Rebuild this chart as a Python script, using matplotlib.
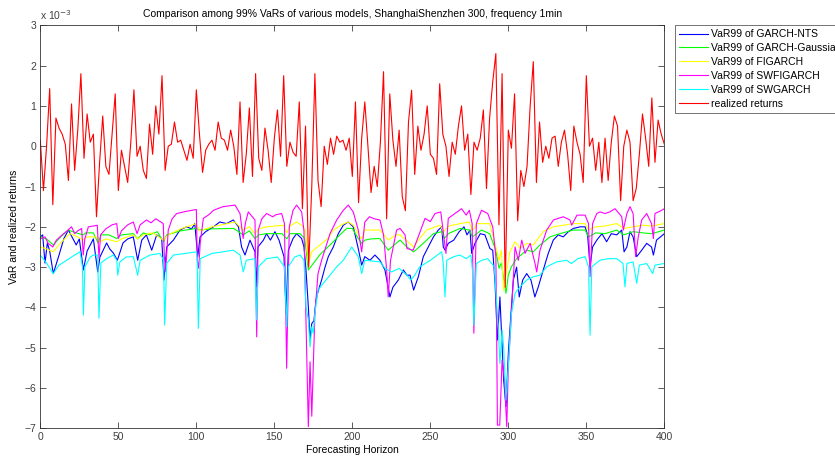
import numpy as np
import matplotlib
matplotlib.use("Agg")
import matplotlib.pyplot as plt

plt.rcParams['font.family'] = ['Liberation Sans', 'DejaVu Sans']

# realized returns (x 1e-3), read every 2nd step of the horizon
returns = [
    0.15, -1.1, 0.0, 1.43, -1.45, 0.7, 0.45, 0.3, 0.05, -0.85,
    1.05, -0.6, 0.4, 1.8, -0.3, 0.8, 0.1, 0.3, -1.75, -0.4,
    0.75, -0.5, -0.7, 0.3, 1.3, -1.1, -0.1, -0.5, -0.9, 0.1,
    1.4, -0.25, 0.0, -0.6,
    -0.8, 0.55, -0.2, 1.0, 0.3, 1.75, -0.6, 0.0, 0.05, 0.6,
    0.1, 0.15, -0.1, -0.35, 0.05, -0.3, 1.4, 0.3, -0.65, -0.1,
    0.05, 0.15, -0.1, 0.6, 0.2, 0.15, -0.1, 0.4, 0.0, -0.7,
    1.1, -0.9, -0.2,
    0.95, -0.75, 1.8, -0.3, -0.6, 0.45, -0.1, -0.9, 0.2, 0.9,
    -0.25, 1.75, -0.5, 0.1, -0.15, -0.25, 1.1, -1.55, 0.5, -3.0,
    -1.0, 1.8, -0.85, -1.5, 0.0, -0.45, 0.2, -0.2, 0.25, 0.1,
    0.15, -0.1, 0.2, -0.75,
    1.1, -1.4, 0.2, 1.1, 0.0, -1.15, -0.5, -1.0, 0.1, 1.85,
    -1.8, 1.3, 0.15, -0.5, 0.4, -1.25, -1.6, 0.6, 1.39, -0.7,
    0.5, -0.1, 0.3, 1.0, -0.2, -0.3, -0.7, 1.55, 0.3, 0.0,
    -0.75, 0.1, -0.2,
    0.5, 1.0, -0.1, 0.3, -1.2, 0.1, -0.1, 0.2, 0.9, -1.05,
    0.7, 1.6, 2.3, -1.95, 1.8, -3.5, 0.4, -0.05, 1.3, -1.85,
    -0.6, -1.0, -0.5, 1.0, 2.1, -0.9, 0.6, -0.4, 0.0, -0.3,
    0.2, 0.25, -0.5,
    0.1, 0.4, -0.2, -1.1, 0.5, 0.1, -0.2, -0.9, 1.75, 0.0,
    0.2, -0.6, 0.1, -0.9, 0.2, -0.85, 0.1, 0.75, 0.5, -1.35,
    0.0, 0.4, 0.1, -1.35, -1.05, -0.2, 0.8, 0.2, -0.5, 1.2,
    -0.4, 0.65, 0.3, 0.05,
]
returns_x = np.arange(len(returns)) * 2

# VaR99 forecasts (horizon, VaR x 1e-3)
var_nts = [
    (0, -2.25), (1.5, -2.2), (3, -2.9), (4.5, -2.4), (6, -2.6), (8.3, -3.16), (12, -2.7), (15, -2.3),
    (18, -2.08), (21, -2.3), (23, -2.45), (25, -2.3), (27.6, -3.07), (30, -2.6), (32, -2.45), (34, -2.3),
    (36.8, -3.12), (38.2, -2.75), (42.5, -2.4), (44.5, -2.55), (46.8, -2.65), (49.4, -2.83), (53, -2.4),
    (56, -2.3), (59.6, -2.25), (62.4, -2.83), (65, -2.33), (68, -2.2), (71.4, -2.58), (74.6, -2.2),
    (77.8, -2.29), (79.3, -3.32), (81, -2.5), (85.3, -2.33), (89.5, -2.08), (93.8, -2.0), (97, -2.05),
    (99, -1.92), (100.9, -2.74), (102.4, -2.25), (106, -2.12), (111, -2.0), (115, -1.88), (119.4, -1.92),
    (123.7, -1.83), (127, -2.0), (129, -2.5), (131.2, -2.7), (134.4, -2.33), (137.6, -2.62), (138.3, -3.49),
    (139.5, -2.5), (143, -2.33), (145, -2.17), (147.5, -2.33), (150.4, -2.12), (153, -2.33), (156.2, -2.74),
    (157.5, -4.15), (159, -2.58), (162, -2.29), (164.3, -2.17), (167.5, -2.29), (169, -2.5), (170.3, -3.07),
    (171.8, -3.98), (172.9, -4.81), (174, -4.4), (175.4, -4.33), (176.7, -3.82), (178, -3.61), (180.3, -3.32),
    (182.5, -3.0), (184.6, -2.74), (187.8, -2.5), (191, -2.17), (194.2, -1.96), (197.4, -1.88), (200.6, -2.0),
    (203.8, -2.54), (206, -2.95), (208, -2.74), (211.3, -2.83), (214.5, -2.7), (217.7, -2.83), (220.9, -3.07),
    (224.1, -3.74), (226, -3.5), (229.5, -3.32), (232.7, -3.07), (235, -3.2), (237, -3.2), (239.3, -3.57),
    (242.3, -3.24), (245.5, -2.74), (248.7, -2.5), (252, -2.25), (255.1, -2.08), (257.3, -2.0), (258.3, -2.5),
    (259.5, -2.58), (261.5, -2.41), (265, -2.33), (268.5, -2.12), (271.6, -2.0), (273.5, -2.2), (275.4, -2.08),
    (276.5, -2.66), (278.6, -2.41), (282, -2.17), (285, -2.2), (288.2, -2.54), (290, -2.58), (291.5, -3.4),
    (293, -4.81), (294.6, -3.74), (297, -5.8), (298.5, -6.46), (300, -5.14), (301.7, -4.15), (303.2, -3.32),
    (305.3, -3.0), (307, -3.74), (309.2, -3.32), (311.8, -3.16), (314.5, -3.32), (317, -3.74), (319.2, -3.49),
    (322.4, -3.07), (325.6, -2.66), (328.8, -2.33), (332, -2.2), (335.2, -2.25), (338.5, -2.12), (341.7, -2.04),
    (346, -2.0), (349.2, -2.0), (350.8, -2.2), (352.4, -2.99), (354, -2.5), (356.7, -2.33), (360, -2.17),
    (363, -2.37), (366, -2.17), (369.5, -2.2), (372.7, -2.08), (374.2, -2.62), (376, -2.5), (378, -2.12),
    (380, -2.25), (382.3, -2.74), (385.5, -2.58), (388.7, -2.41), (391.8, -2.5), (393, -2.7), (395, -2.33),
    (400, -2.17),
]
var_gauss = [
    (0, -2.25), (4, -2.3), (8.3, -2.45), (13, -2.25), (18, -2.08), (23, -2.15), (27.5, -2.2), (29, -2.15),
    (34, -2.15), (37, -2.4), (39, -2.2), (44, -2.2), (49, -2.29), (52, -2.2), (59.6, -2.17), (62.4, -2.3),
    (66, -2.15), (70, -2.2), (75, -2.12), (79, -2.37), (81, -2.2), (90, -2.1), (100, -2.04), (102, -2.08),
    (110, -2.05), (124, -2.04), (130, -2.2), (134, -2.1), (137.6, -2.29), (140, -2.2), (145, -2.17),
    (155, -2.17), (158, -2.3), (160, -2.17), (166.5, -2.17), (169.5, -2.29), (171.8, -3.07), (175, -2.91),
    (179, -2.7), (183, -2.55), (187.8, -2.37), (192, -2.2), (196.4, -2.04), (200, -2.04), (203.8, -2.29),
    (206, -2.41), (208, -2.33), (212, -2.3), (217.7, -2.29), (223, -2.58), (228, -2.41), (230.6, -2.33),
    (235, -2.5), (239.3, -2.62), (245.5, -2.41), (252, -2.17), (257.3, -2.12), (259, -2.29), (261.5, -2.17),
    (269, -2.04), (275, -2.08), (277, -2.25), (282.8, -2.08), (288, -2.17), (292, -2.58), (294, -3.03),
    (295.5, -2.9), (298.5, -3.65), (300, -3.2), (302, -2.99), (305.3, -2.79), (311.8, -2.58), (316, -2.62),
    (320.3, -2.45), (326.7, -2.25), (333, -2.17), (341.7, -2.08), (349.2, -2.08), (351.4, -2.25),
    (356, -2.15), (362, -2.17), (369.5, -2.08), (374, -2.2), (380, -2.12), (386, -2.15), (392, -2.17),
    (400, -2.08),
]
var_figarch = [
    (0, -2.5), (4, -2.55), (8.3, -2.62), (13, -2.4), (19, -2.17), (24, -2.25), (27.5, -2.33), (30, -2.25),
    (36, -2.25), (38, -2.37), (42, -2.3), (49, -2.37), (52, -2.3), (59.6, -2.2), (62.4, -2.3), (66, -2.2),
    (72, -2.15), (79, -2.33), (82, -2.2), (90, -2.05), (100, -1.92), (102, -2.1), (110, -2.0), (124.8, -1.88),
    (130, -2.08), (134, -2.0), (137.6, -2.17), (140, -2.05), (145, -2.0), (155.8, -1.96), (158, -2.15),
    (160, -1.98), (164.3, -1.88), (167.5, -1.96), (170, -2.1), (171.8, -2.91), (174, -2.62), (179.3, -2.45),
    (184, -2.3), (188, -2.08), (193, -1.95), (197.4, -1.88), (200.6, -1.96), (203.8, -2.17), (206, -2.3),
    (208, -2.08), (217.7, -2.08), (223, -2.33), (228, -2.2), (230.6, -2.2), (235, -2.35), (239.3, -2.5),
    (243, -2.3), (247.6, -2.08), (256.2, -1.96), (258.5, -2.12), (262, -1.98), (269, -1.92), (275, -1.88),
    (277, -2.1), (280, -1.92), (288, -1.92), (292, -2.5), (294, -2.83), (295.5, -2.58), (297, -3.57),
    (299, -3.07), (301, -2.62), (304.3, -2.37), (307.5, -2.53), (311.8, -2.41), (316, -2.45), (322.4, -2.12),
    (328.8, -2.0), (341.7, -1.92), (349.2, -1.92), (351.4, -2.08), (356, -2.0), (362, -1.98), (369.5, -1.92),
    (374, -2.04), (380, -2.0), (386, -1.96), (392, -1.98), (400, -1.92),
]
var_swfigarch = [
    (0, -2.3), (3, -2.25), (5, -2.41), (8, -2.5), (10.3, -2.33), (14, -2.2), (17.8, -2.08), (20, -2.0),
    (22, -2.17), (24, -2.1), (26.5, -2.04), (27.5, -2.7), (28.5, -2.3), (30.8, -2.0), (34, -1.98),
    (36.5, -1.96), (37.6, -2.78), (38.6, -2.2), (42, -2.05), (46, -1.95), (49, -1.92), (50, -2.29),
    (52, -2.1), (56, -1.95), (59.6, -1.88), (62, -2.17), (64, -1.95), (68, -1.83), (71, -1.9), (74, -1.8),
    (78.8, -1.92), (79.5, -2.74), (80.3, -3.1), (82, -2.08), (84.5, -1.8), (87.4, -1.67), (93, -1.62),
    (100, -1.57), (100.6, -2.83), (101.5, -3.03), (102.5, -2.4), (104.5, -1.79), (108, -1.7), (111, -1.59),
    (117, -1.5), (124.8, -1.46), (128, -1.67), (130, -2.29), (131.5, -1.9), (133.3, -1.63), (137.6, -1.83),
    (138.7, -4.73), (139.7, -2.08), (142, -1.8), (145, -1.67), (149, -1.75), (151, -1.7), (154.7, -1.67),
    (156.5, -1.92), (157.9, -5.51), (159.6, -2.0), (162, -1.59), (164.3, -1.46), (167.5, -1.63), (169, -2.1),
    (170.7, -4.98), (171.8, -6.96), (172.9, -5.35), (174, -6.7), (176, -4.15), (178, -3.16), (180.3, -2.83),
    (183, -2.5), (185.7, -2.17), (190, -1.83), (194, -1.6), (197.4, -1.46), (200.6, -1.63), (203.8, -2.08),
    (206, -2.62), (208, -1.88), (211, -1.75), (214, -1.8), (217.7, -1.83), (220, -2.2), (222, -3.07),
    (223, -3.74), (224.5, -2.83), (228.4, -2.08), (230.6, -2.04), (233.8, -2.2), (235, -2.54), (239, -2.58),
    (243, -2.17), (246.6, -1.79), (250, -1.87), (253, -1.67), (256.7, -1.63), (258.5, -2.2), (260, -2.66),
    (261.5, -1.79), (265.8, -1.67), (270, -1.55), (273, -1.71), (275, -1.59), (276.8, -1.92), (277.9, -4.64),
    (279.5, -1.92), (282.8, -1.59), (286.8, -1.67), (290, -2.0), (292, -2.74), (292.5, -4.5), (293, -6.92),
    (294.5, -6.92), (296, -5.3), (297.5, -5.8), (299, -6.96), (300, -5.47), (302, -4.15), (304.3, -2.5),
    (306.4, -2.83), (308.6, -2.33), (310.7, -2.66), (314, -2.41), (317.1, -2.91), (318.2, -3.12),
    (320.3, -2.58), (324.6, -2.08), (328.9, -1.83), (335.2, -1.75), (339.5, -1.83), (340.6, -1.96),
    (344, -1.71), (349.2, -1.71), (351.4, -1.92), (352.4, -3.24), (354, -1.92), (356.7, -1.67),
    (358.8, -1.63), (362, -1.67), (365, -1.63), (368.4, -1.55), (372.7, -1.75), (373.7, -2.08), (376, -1.67),
    (378, -1.5), (380, -1.67), (381.6, -2.74), (383.3, -2.25), (385.5, -1.83), (388.7, -1.67), (391.8, -1.92),
    (393, -2.29), (394, -1.67), (398.3, -1.59), (400, -1.55),
]
var_swgarch = [
    (0, -2.7), (4, -2.9), (8.3, -3.16), (12, -2.95), (16.9, -2.83), (22, -2.7), (25.4, -2.62), (27, -2.99),
    (27.6, -4.19), (28.6, -2.99), (32, -2.75), (34, -2.7), (36.8, -2.7), (37.6, -4.27), (38.8, -2.9),
    (42, -2.8), (46.8, -2.7), (49, -2.83), (49.6, -3.2), (51, -2.87), (55, -2.75), (59.6, -2.74), (62.4, -3.2),
    (64, -2.83), (70.3, -2.7), (76.7, -2.66), (79, -2.83), (79.7, -4.44), (81, -2.91), (85.3, -2.7),
    (93, -2.66), (100, -2.62), (100.5, -2.8), (101.3, -4.52), (102.5, -2.79), (110, -2.66), (117, -2.62),
    (123.7, -2.58), (128, -2.7), (130.1, -3.12), (132, -2.83), (137.6, -2.79), (138.5, -4.31), (139.8, -2.99),
    (145, -2.79), (152, -2.75), (156.5, -2.99), (157.9, -4.48), (159, -2.99), (163, -2.75), (166.5, -2.7),
    (169, -2.83), (170.3, -3.98), (171.8, -4.31), (172.9, -4.98), (174, -4.48), (175, -4.64), (176, -4.15),
    (178, -3.57), (181.4, -3.4), (185.7, -3.2), (190, -2.99), (194.2, -2.83), (199.6, -2.5), (203.8, -2.74),
    (206, -3.16), (208, -2.83), (213, -2.85), (217.7, -2.87), (221, -3.03), (225.2, -3.12), (230, -3.03),
    (235, -3.2), (237.5, -3.32), (240, -3.2), (243, -3.0), (250, -2.83), (257.3, -2.62), (258.3, -2.91),
    (259.4, -3.74), (260.5, -2.83), (265, -2.74), (269, -2.7), (273, -2.79), (276, -2.7), (277, -3.07),
    (277.9, -4.44), (279.5, -2.91), (283, -2.83), (286.8, -2.79), (291, -2.99), (293.5, -4.48),
    (294.6, -5.39), (296, -4.56), (297, -4.98), (298.5, -6.3), (300, -5.47), (302, -4.15), (304.3, -3.65),
    (307.5, -3.49), (311.8, -3.32), (316, -3.24), (320.3, -3.2), (324.6, -2.99), (331, -2.87), (337.4, -2.83),
    (340.5, -2.91), (344.6, -2.79), (349.2, -2.74), (351.4, -2.99), (352.4, -4.69), (353.5, -2.99),
    (358.8, -2.83), (364, -2.79), (369.5, -2.79), (373.5, -2.91), (374.8, -3.49), (376, -2.91), (380, -2.87),
    (382.3, -3.4), (384, -2.95), (388.7, -2.91), (392.5, -3.16), (394, -2.95), (400, -2.91),
]

series = [
    (var_nts, "blue", "VaR99 of GARCH-NTS"),
    (var_gauss, "lime", "VaR99 of GARCH-Gaussian"),
    (var_figarch, "yellow", "VaR99 of FIGARCH"),
    (var_swfigarch, "magenta", "VaR99 of SWFIGARCH"),
    (var_swgarch, "cyan", "VaR99 of SWGARCH"),
]

fig = plt.figure(figsize=(8.35, 4.58), dpi=100)
ax = fig.add_axes([0.0483, 0.0648, 0.7473, 0.8799])

for pts, col, lab in series:
    pts = np.array(pts)
    ax.plot(pts[:, 0], pts[:, 1], color=col, lw=0.8, label=lab)
ax.plot(returns_x, returns, color="red", lw=0.8, label="realized returns")

ax.set_xlim(0, 400)
ax.set_ylim(-7, 3)
ax.set_xticks(np.arange(0, 401, 50))
ax.set_yticks(np.arange(-7, 4, 1))
ax.tick_params(direction="in", length=4, width=0.6, top=True, right=True,
               labelsize=7.5, colors="0.25", pad=3)
for sp in ax.spines.values():
    sp.set_linewidth(0.6)
    sp.set_color("0.2")

ax.set_title("Comparison among 99% VaRs of various models, ShanghaiShenzhen 300, frequency 1min",
             fontsize=7.5, pad=6)
ax.set_xlabel("Forecasting Horizon", fontsize=7.5, labelpad=2)
ax.set_ylabel("VaR and realized returns", fontsize=7.5, labelpad=4)
ax.text(0.0, 1.012, r"x 10$^{-3}$", transform=ax.transAxes, fontsize=7.5, color="0.25")

leg = ax.legend(loc="upper left", bbox_to_anchor=(675 / 835, 1 - 25 / 458),
                bbox_transform=fig.transFigure, fontsize=7.5, frameon=True,
                fancybox=False, borderaxespad=0, handlelength=2.8, handletextpad=0.3,
                labelspacing=0.38, borderpad=0.4)
leg.get_frame().set_edgecolor("0.2")
leg.get_frame().set_linewidth(0.6)

fig.savefig("out.png", dpi=100)
